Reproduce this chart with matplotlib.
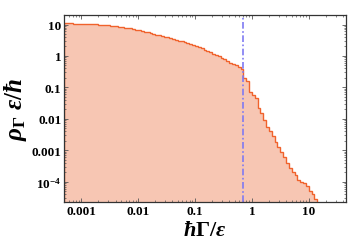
import numpy as np
import matplotlib
matplotlib.use("Agg")
import matplotlib.pyplot as plt
from matplotlib.ticker import FixedLocator, FixedFormatter, LogLocator, NullFormatter

# log10 of rho_Gamma * eps / hbar per bin, 0.05-decade bins
log_density = [
    1.04, 1.04, 1.035, 1.03, 1.03, 1.025, 1.02, 1.02, 1.015, 1.01,
    1.01, 1.005, 1.0, 0.995, 0.985, 0.975, 0.965, 0.955, 0.945, 0.93,
    0.92, 0.905, 0.89, 0.875, 0.855, 0.835, 0.81, 0.79, 0.77, 0.75,
    0.73, 0.705, 0.68, 0.66, 0.635, 0.615, 0.59, 0.57, 0.545, 0.515,
    0.49, 0.46, 0.435, 0.405, 0.38, 0.345, 0.31, 0.275, 0.24, 0.205,
    0.16, 0.12, 0.075, 0.03, -0.015, -0.06, -0.11, -0.16, -0.21, -0.25,
    -0.30, -0.35, -0.40,
    -0.70, -0.80, -1.15, -1.25, -1.35, -1.65, -1.80, -2.05, -2.25, -2.40,
    -2.55, -2.75, -2.90, -3.05, -3.20, -3.40, -3.55, -3.70, -3.80, -3.95,
    -4.00, -4.05, -4.15, -4.30, -4.40, -4.55,
]
bin_range_log10 = (-3.3, 1.15)
threshold = np.log(2)  # dash-dot marker

xtick_vals = [0.001, 0.01, 0.1, 1, 10]
xtick_labels = ["0.001", "0.01", "0.1", "1", "10"]
ytick_vals = [10, 1, 0.1, 0.01, 0.001, 1e-4]
ytick_labels = ["10", "1", "0.1", "0.01", "0.001", r"$\mathbf{10^{-4}}$"]

plt.rcParams["font.family"] = ["Liberation Serif", "DejaVu Serif"]
plt.rcParams["font.weight"] = "bold"
plt.rcParams["mathtext.fontset"] = "custom"
plt.rcParams["mathtext.rm"] = "Liberation Serif:bold"
plt.rcParams["mathtext.bf"] = "Liberation Serif:bold"
plt.rcParams["mathtext.it"] = "Liberation Serif:italic:bold"

vals = 10 ** np.array(log_density)
edges = np.logspace(bin_range_log10[0], bin_range_log10[1], len(vals) + 1)

fig = plt.figure(figsize=(3.49, 2.51), dpi=100)
ax = fig.add_axes([0.184, 0.19, 0.807, 0.746])
ax.set_xscale("log")
ax.set_yscale("log")

ax.stairs(vals, edges, baseline=1e-7, fill=True, color="#f7c6b3", lw=0)
ax.stairs(vals, edges, baseline=1e-7, color="#f0622c", lw=1.0)
ax.axvline(threshold, color="#7f7af2", lw=1.2, ls=(0, (4, 1.5, 1, 1.5)))

ax.set_xlim(5e-4, 45)
ax.set_ylim(2.2e-5, 20)

ax.xaxis.set_major_locator(FixedLocator(xtick_vals))
ax.xaxis.set_major_formatter(FixedFormatter(xtick_labels))
ax.yaxis.set_major_locator(FixedLocator(ytick_vals))
ax.yaxis.set_major_formatter(FixedFormatter(ytick_labels))
ax.xaxis.set_minor_locator(LogLocator(base=10, subs=np.arange(2, 10)))
ax.yaxis.set_minor_locator(LogLocator(base=10, subs=np.arange(2, 10)))
ax.xaxis.set_minor_formatter(NullFormatter())
ax.yaxis.set_minor_formatter(NullFormatter())

ax.tick_params(which="both", direction="in", top=True, right=True,
               labelsize=9.5, color="#555555", pad=2)
ax.tick_params(which="major", length=3, width=0.6)
ax.tick_params(which="minor", length=1.5, width=0.5)
for sp in ax.spines.values():
    sp.set_color("#333333")
    sp.set_linewidth(0.9)

ax.set_xlabel(r"$\hbar\Gamma/\varepsilon$", fontsize=16, labelpad=3)
ax.set_ylabel(r"$\rho_{\Gamma}\ \varepsilon/\hbar$", fontsize=18, labelpad=2)

fig.savefig("out.png", dpi=100)
